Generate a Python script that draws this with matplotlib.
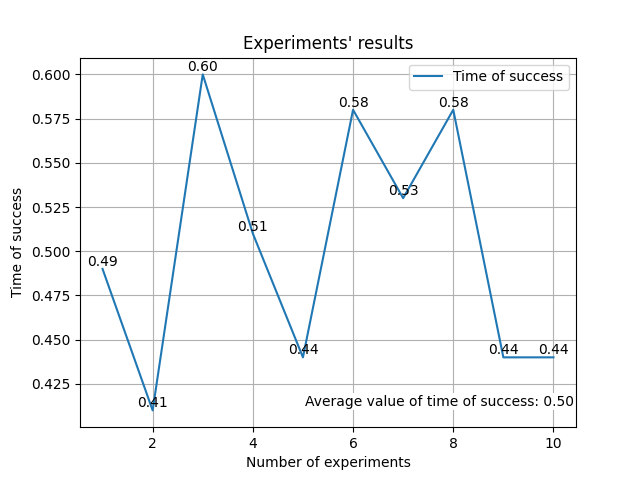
import matplotlib
matplotlib.use("Agg")
import matplotlib.pyplot as plt
import numpy as np

experiments = list(range(1, 11))
times = [0.49, 0.41, 0.60, 0.51, 0.44, 0.58, 0.53, 0.58, 0.44, 0.44]

fig, ax = plt.subplots(figsize=(6.4, 4.8), dpi=100)
ax.plot(experiments, times, label="Time of success")
for x, y in zip(experiments, times):
    ax.text(x, y, f"{y:.2f}", ha="center", va="bottom")
avg = np.mean(times)
ax.text(0.995, 0.05, f"Average value of time of success: {avg:.2f}", transform=ax.transAxes,
        ha="right", va="bottom", bbox=dict(facecolor="white", edgecolor="none", pad=1))
ax.set_title("Experiments' results")
ax.set_xlabel("Number of experiments")
ax.set_ylabel("Time of success")
ax.grid(True)
ax.legend(loc="upper right")
fig.savefig("out.png")
